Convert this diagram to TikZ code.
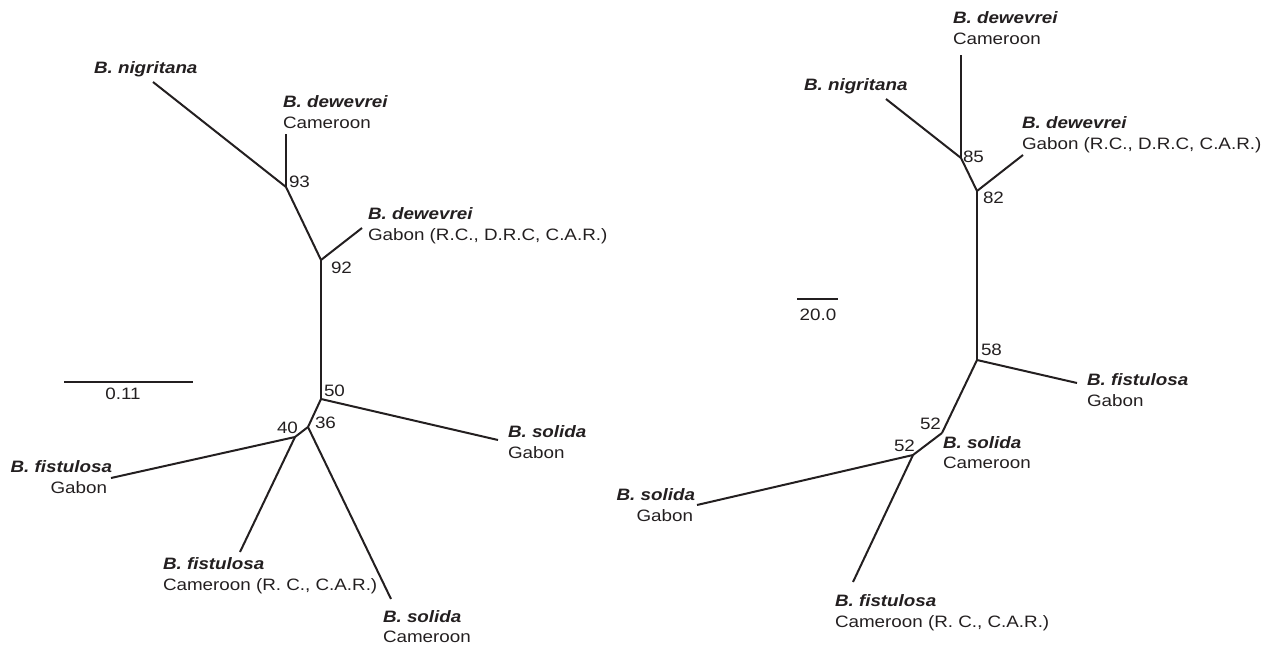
\documentclass[tikz,border=0pt]{standalone}
\usepackage{fontspec}
\setmainfont{Liberation Sans}[FakeStretch=1.14]
\definecolor{ink}{HTML}{231F20}
\tikzset{
  branch/.style={line width=2pt, color=ink, line cap=butt, line join=miter},
  lbl/.style={inner sep=0pt, outer sep=0pt, text=ink, font=\fontsize{16.5}{21}\selectfont},
  sp/.style={lbl, font=\fontsize{16.5}{21}\selectfont\bfseries\itshape},
  bs/.style={lbl},
}
\begin{document}
\begin{tikzpicture}[x=1pt,y=-1pt]
\useasboundingbox (0,0) rectangle (1270,648);
% ---------------- left tree ----------------
\coordinate (L93) at (286,187);
\coordinate (L92) at (321,260);
\coordinate (L50) at (321,399);
\coordinate (L36) at (308,427);
\coordinate (L40) at (295,437);
\coordinate (Lnig) at (153,82);
\coordinate (LdewC) at (286,134);
\coordinate (LdewG) at (362,228);
\coordinate (LsolG) at (498,440);
\coordinate (LfisG) at (111,478);
\coordinate (LfisC) at (240,552);
\coordinate (LsolC) at (391,599);
\draw[branch] (Lnig) -- (L93);
\draw[branch] (LdewC) -- (L93);
\draw[branch] (L93) -- (L92);
\draw[branch] (LdewG) -- (L92);
\draw[branch] (L92) -- (L50);
\draw[branch] (L50) -- (LsolG);
\draw[branch] (L50) -- (L36);
\draw[branch] (L36) -- (L40);
\draw[branch] (L36) -- (LsolC);
\draw[branch] (L40) -- (LfisG);
\draw[branch] (L40) -- (LfisC);
\node[sp, anchor=base west] (tLnig) at (94,73) {B. nigritana};
\node[sp, anchor=base west] (tLdewC1) at (283,107) {B. dewevrei};
\node[lbl, anchor=base west] (tLdewC2) at (283,128) {Cameroon};
\node[sp, anchor=base west] (tLdewG1) at (368,219) {B. dewevrei};
\node[lbl, anchor=base west] (tLdewG2) at (368,240) {Gabon (R.C., D.R.C, C.A.R.)};
\node[sp, anchor=base west] (tLsolG1) at (508,437) {B. solida};
\node[lbl, anchor=base west] (tLsolG2) at (508,458) {Gabon};
\node[sp, anchor=base east] (tLfisG1) at (112,472) {B. fistulosa};
\node[lbl, anchor=base east] (tLfisG2) at (107,493) {Gabon};
\node[sp, anchor=base west] (tLfisC1) at (163,569) {B. fistulosa};
\node[lbl, anchor=base west] (tLfisC2) at (163,590) {Cameroon (R. C., C.A.R.)};
\node[sp, anchor=base west] (tLsolC1) at (383,622) {B. solida};
\node[lbl, anchor=base west] (tLsolC2) at (383,642) {Cameroon};
\node[bs, anchor=base west] (b93) at (289,187) {93};
\node[bs, anchor=base west] (b92) at (331,273) {92};
\node[bs, anchor=base west] (b50) at (324,396) {50};
\node[bs, anchor=base west] (b36) at (315,428) {36};
\node[bs, anchor=base west] (b40) at (277,433) {40};
\coordinate (Lsc1) at (64,382);
\coordinate (Lsc2) at (193,382);
\draw[branch] (Lsc1) -- (Lsc2);
\node[lbl, anchor=base] (tLsc) at (123,399) {0.11};
% ---------------- right tree ----------------
\coordinate (R85) at (961,158);
\coordinate (R82) at (977,191);
\coordinate (R58) at (977,360);
\coordinate (R52a) at (942,433);
\coordinate (R52b) at (913,455);
\coordinate (RdewC) at (961,55);
\coordinate (Rnig) at (886,99);
\coordinate (RdewG) at (1023,155);
\coordinate (RfisG) at (1077,383);
\coordinate (RsolG) at (697,505);
\coordinate (RfisC) at (853,582);
\draw[branch] (RdewC) -- (R85);
\draw[branch] (Rnig) -- (R85);
\draw[branch] (R85) -- (R82);
\draw[branch] (RdewG) -- (R82);
\draw[branch] (R82) -- (R58);
\draw[branch] (R58) -- (RfisG);
\draw[branch] (R58) -- (R52a);
\draw[branch] (R52a) -- (R52b);
\draw[branch] (R52b) -- (RsolG);
\draw[branch] (R52b) -- (RfisC);
\node[sp, anchor=base west] (tRdewC1) at (953,23) {B. dewevrei};
\node[lbl, anchor=base west] (tRdewC2) at (953,44) {Cameroon};
\node[sp, anchor=base west] (tRnig) at (804,90) {B. nigritana};
\node[sp, anchor=base west] (tRdewG1) at (1022,128) {B. dewevrei};
\node[lbl, anchor=base west] (tRdewG2) at (1022,149) {Gabon (R.C., D.R.C, C.A.R.)};
\node[sp, anchor=base west] (tRfisG1) at (1087,385) {B. fistulosa};
\node[lbl, anchor=base west] (tRfisG2) at (1087,406) {Gabon};
\node[sp, anchor=base west] (tRsolC1) at (943,448) {B. solida};
\node[lbl, anchor=base west] (tRsolC2) at (943,468) {Cameroon};
\node[sp, anchor=base east] (tRsolG1) at (695,500) {B. solida};
\node[lbl, anchor=base east] (tRsolG2) at (693,521) {Gabon};
\node[sp, anchor=base west] (tRfisC1) at (835,606) {B. fistulosa};
\node[lbl, anchor=base west] (tRfisC2) at (835,627) {Cameroon (R. C., C.A.R.)};
\node[bs, anchor=base west] (b85) at (963,162) {85};
\node[bs, anchor=base west] (b82) at (983,203) {82};
\node[bs, anchor=base west] (b58) at (981,355) {58};
\node[bs, anchor=base west] (b52a) at (920,429) {52};
\node[bs, anchor=base west] (b52b) at (894,451) {52};
\coordinate (Rsc1) at (797,299);
\coordinate (Rsc2) at (838,299);
\draw[branch] (Rsc1) -- (Rsc2);
\node[lbl, anchor=base] (tRsc) at (818,320) {20.0};
\end{tikzpicture}
\end{document}
